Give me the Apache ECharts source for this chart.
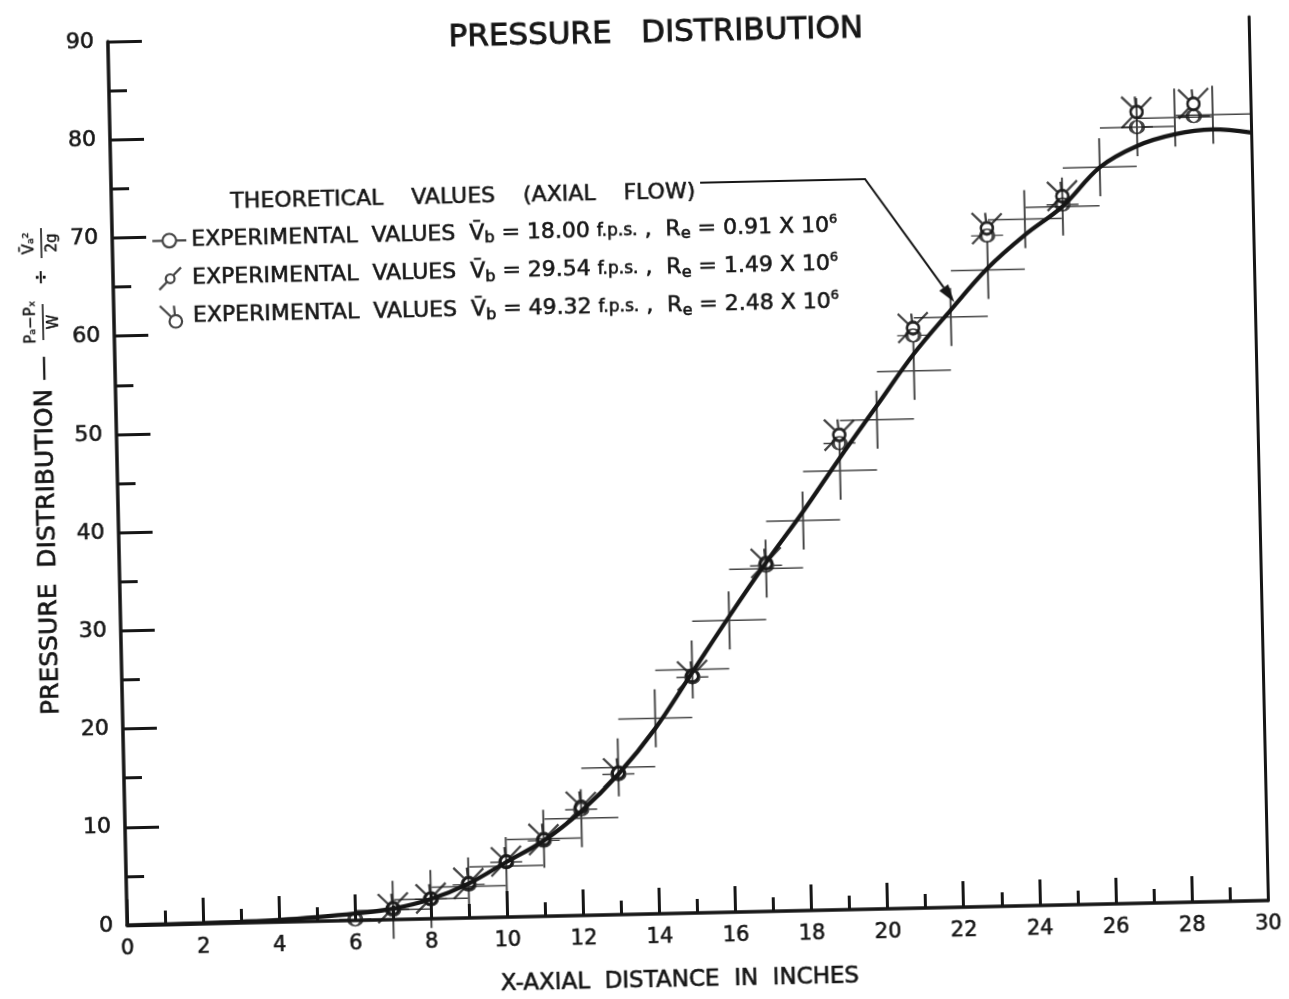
<!DOCTYPE html>
<html>
<head>
<meta charset="utf-8">
<script src="https://cdn.jsdelivr.net/npm/echarts@6/dist/echarts.min.js"></script>
<style>
html, body { margin: 0; padding: 0; background: #ffffff; overflow: hidden; }
#chart { width: 1289px; height: 999px; transform: rotate(-1.25deg); transform-origin: 50% 50%; }
</style>
</head>
<body>
<div id="chart"></div>
<script>
// ---------------- data ----------------
const xInches = [0,1,2,3,4,5,6,7,8,9,10,11,12,13,14,15,16,17,18,19,20,21,22,23,24,25,26,27,28,29,30];
const theoreticalCurve = [0,0.02,0.06,0.12,0.22,0.42,0.7,1.1,2.0,3.5,5.6,7.7,10.6,14.3,18.9,24.5,30.1,35.5,40.6,46.0,51.2,56.4,60.8,65.0,68.3,71.1,75.0,77.1,78.2,78.6,78.2];

const crossX = [7,8,9,10,11,12,13,14,15,16,17,18,19,20,21,22,23,24,25,26,27,28,29];
const crossValues = [1.0,2.0,3.2,5.2,7.9,9.9,15.0,19.9,24.8,29.7,34.9,39.7,44.7,49.8,54.7,60.1,64.8,69.9,71.1,75.0,79.0,79.9,80.1];

const exp1X = [6,7,8,9,10,11,12,13,15,17,19,21,23,25,27,28.5];
const exp1Values = [0.1,1.0,2.0,3.4,5.6,7.7,10.8,14.3,24.0,35.2,47.5,58.3,68.3,71.3,79.0,80.0];
const exp23X = [7,8,9,10,11,12,13,15,17,19,21,23,25,27,28.5];
const exp2Values = [1.2,2.1,3.5,5.7,7.8,11.0,14.5,24.2,35.5,48.3,59.1,69.0,72.2,80.5,81.3];
const exp3Values = [1.1,2.0,3.6,5.6,7.9,11.1,14.4,24.1,35.4,48.4,59.0,69.1,72.1,80.6,81.2];

const seriesNames = [
  'THEORETICAL VALUES (AXIAL FLOW)',
  'EXPERIMENTAL VALUES V\u0304b = 18.00 f.p.s., Re = 0.91 X 10\u2076',
  'EXPERIMENTAL VALUES V\u0304b = 29.54 f.p.s., Re = 1.49 X 10\u2076',
  'EXPERIMENTAL VALUES V\u0304b = 49.32 f.p.s., Re = 2.48 X 10\u2076'
];
const richLabels = [
  '{t|THEORETICAL    VALUES    (AXIAL    FLOW)}',
  '{t|EXPERIMENTAL  VALUES  V\u0304}{s|b}{t| = 18.00 }{f|f.p.s.}{t| ,  R}{s|e}{t| = 0.91 X 10}{p|6}',
  '{t|EXPERIMENTAL  VALUES  V\u0304}{s|b}{t| = 29.54 }{f|f.p.s.}{t| ,  R}{s|e}{t| = 1.49 X 10}{p|6}',
  '{t|EXPERIMENTAL  VALUES  V\u0304}{s|b}{t| = 49.32 }{f|f.p.s.}{t| ,  R}{s|e}{t| = 2.48 X 10}{p|6}'
];
const arrowTarget = [22.1, 61.6];

// ---------------- styling ----------------
const INK = '#161616';
const FONT = 'DejaVu Sans';
const HEAVY = { textBorderColor: INK, textBorderWidth: 0.6 };
const CIRCLE = 'M0.4,0C0.4,0.2209 0.2209,0.4 0,0.4C-0.2209,0.4 -0.4,0.2209 -0.4,0C-0.4,-0.2209 -0.2209,-0.4 0,-0.4C0.2209,-0.4 0.4,-0.2209 0.4,0Z';
const SYM_CROSS = 'path://M-1,0L1,0M0,-1L0,1';
const SYM_EXP1 = 'path://M-1,0L-0.4,0M0.4,0L1,0M' + CIRCLE.slice(1);
const SYM_EXP2 = 'path://M-1,1L-0.28,0.28M0.28,-0.28L1,-1M' + CIRCLE.slice(1);
const SYM_EXP3 = 'path://M-1,-1L-0.28,-0.28M-0.1,-1L-0.05,-0.4M' + CIRCLE.slice(1);

const zip = (xs, ys) => xs.map((x, i) => [x, ys[i]]);
const legendFormatter = name => richLabels[seriesNames.indexOf(name)];
const rich = {
  t: Object.assign({ fontSize: 22, fontFamily: FONT, color: INK, lineHeight: 26 }, HEAVY),
  f: Object.assign({ fontSize: 17, fontFamily: FONT, color: INK, lineHeight: 26 }, HEAVY),
  s: Object.assign({ fontSize: 16, fontFamily: FONT, color: INK, lineHeight: 14, verticalAlign: 'bottom' }, HEAVY),
  p: Object.assign({ fontSize: 13, fontFamily: FONT, color: INK, lineHeight: 12, verticalAlign: 'top' }, HEAVY)
};
const expStyle = { color: 'transparent', borderColor: INK, borderWidth: 2.3 };

const option = {
  backgroundColor: '#ffffff',
  animation: false,
  title: {
    text: 'PRESSURE   DISTRIBUTION',
    left: 661, top: 13, textAlign: 'center',
    textStyle: { fontFamily: FONT, fontSize: 31, fontWeight: 'normal', color: INK, textBorderColor: INK, textBorderWidth: 0.9 }
  },
  grid: { left: 118, right: 30, top: 30, bottom: 85, outerBoundsMode: 'none' },
  legend: [
    {
      id: 'theo', data: [{ name: seriesNames[0], icon: 'none' }],
      left: 217, top: 177, itemWidth: 10, itemHeight: 10, selectedMode: false,
      formatter: legendFormatter, textStyle: { color: INK, rich: rich }
    },
    {
      id: 'exp', orient: 'vertical',
      data: [
        { name: seriesNames[1], icon: SYM_EXP1 },
        { name: seriesNames[2], icon: SYM_EXP2 },
        { name: seriesNames[3], icon: SYM_EXP3 }
      ],
      left: 152, top: 212, itemWidth: 34, itemHeight: 22, itemGap: 11.5, selectedMode: false,
      itemStyle: { color: 'transparent', borderColor: INK, borderWidth: 2.2 },
      formatter: legendFormatter, textStyle: { color: INK, rich: rich }
    }
  ],
  xAxis: {
    type: 'value', min: 0, max: 30, interval: 2,
    name: 'X-AXIAL  DISTANCE  IN  INCHES', nameLocation: 'middle', nameGap: 56,
    nameTextStyle: Object.assign({ fontFamily: FONT, fontSize: 23, color: INK, padding: [0, 38, 0, 0] }, HEAVY),
    axisLine: { show: true, lineStyle: { color: INK, width: 3.5 } },
    axisTick: { show: true, inside: true, length: 26, lineStyle: { color: INK, width: 3 } },
    minorTick: { show: true, splitNumber: 2, length: 14, lineStyle: { color: INK, width: 3 } },
    axisLabel: Object.assign({ fontFamily: FONT, fontSize: 21, color: INK, margin: 13 }, HEAVY),
    splitLine: { show: false }, minorSplitLine: { show: false }
  },
  yAxis: [
    {
      type: 'value', min: 0, max: 90, interval: 10,
      axisLine: { show: true, lineStyle: { color: INK, width: 3.5 } },
      axisTick: { show: true, inside: true, length: 34, lineStyle: { color: INK, width: 3 } },
      minorTick: { show: true, splitNumber: 2, length: 18, lineStyle: { color: INK, width: 3 } },
      axisLabel: Object.assign({ fontFamily: FONT, fontSize: 22, color: INK, margin: 14 }, HEAVY),
      splitLine: { show: false }, minorSplitLine: { show: false }
    },
    {
      type: 'value', min: 0, max: 90, position: 'right',
      axisLine: { show: true, lineStyle: { color: INK, width: 3 } },
      axisTick: { show: false }, axisLabel: { show: false }, splitLine: { show: false }
    }
  ],
  series: [
    {
      name: seriesNames[0], type: 'line', data: zip(xInches, theoreticalCurve),
      smooth: 0.35, symbol: 'none', z: 3,
      lineStyle: { color: INK, width: 4.2 }, itemStyle: { color: INK }
    },
    {
      name: 'Theoretical points', type: 'scatter', data: zip(crossX, crossValues),
      symbol: SYM_CROSS, symbolSize: [74, 58], silent: true, z: 2,
      itemStyle: { color: 'transparent', borderColor: INK, borderWidth: 1.7 }
    },
    {
      name: seriesNames[1], type: 'scatter', data: zip(exp1X, exp1Values),
      symbol: SYM_EXP1, symbolSize: [32, 12.8], z: 4, itemStyle: expStyle
    },
    {
      name: seriesNames[2], type: 'scatter', data: zip(exp23X, exp2Values),
      symbol: SYM_EXP2, symbolSize: 30, z: 4, itemStyle: expStyle
    },
    {
      name: seriesNames[3], type: 'scatter', data: zip(exp23X, exp3Values),
      symbol: SYM_EXP3, symbolSize: 21, symbolOffset: [-4.5, -4.5], z: 4, itemStyle: expStyle
    }
  ]
};

const chart = echarts.init(document.getElementById('chart'), null, { renderer: 'canvas' });
chart.setOption(option);

// leader arrow from the legend text to the theoretical curve
const tip = chart.convertToPixel({ xAxisIndex: 0, yAxisIndex: 0 }, arrowTarget);
const start = [707, 184], elbow = [872, 184];
const dx = tip[0] - elbow[0], dy = tip[1] - elbow[1];
const len = Math.hypot(dx, dy), ux = dx / len, uy = dy / len;
const headL = 18, headW = 5.5;
const base = [tip[0] - ux * headL, tip[1] - uy * headL];
const head = [tip, [base[0] - uy * headW, base[1] + ux * headW], [base[0] + uy * headW, base[1] - ux * headW]];
const small = { fontFamily: FONT, fontSize: 15, fill: INK, align: 'center', verticalAlign: 'middle', stroke: INK, lineWidth: 0.4 };

chart.setOption({
  graphic: [
    {
      id: 'leader', type: 'polyline', silent: true,
      shape: { points: [start, elbow, base] },
      style: { stroke: INK, lineWidth: 2, fill: null }
    },
    {
      id: 'arrowhead', type: 'polygon', silent: true,
      shape: { points: head }, style: { fill: INK }
    },
    {
      id: 'ytitle', type: 'group', x: 47, y: 702, rotation: Math.PI / 2, silent: true,
      children: [
        { type: 'text', x: 0, y: 0, style: { text: 'PRESSURE  DISTRIBUTION \u2014', fontFamily: FONT, fontSize: 25, fill: INK, align: 'left', verticalAlign: 'middle', stroke: INK, lineWidth: 0.6 } },
        { type: 'text', x: 393, y: -12, style: Object.assign({}, small, { text: 'P\u2090\u2212P\u2093' }) },
        { type: 'line', shape: { x1: 375, y1: 0, x2: 411, y2: 0 }, style: { stroke: INK, lineWidth: 1.6 } },
        { type: 'text', x: 393, y: 11, style: Object.assign({}, small, { text: 'W' }) },
        { type: 'text', x: 438, y: 0, style: Object.assign({}, small, { text: '\u00f7', fontSize: 19 }) },
        { type: 'text', x: 472, y: -12, style: Object.assign({}, small, { text: 'V\u0304\u2090\u00b2' }) },
        { type: 'line', shape: { x1: 457, y1: 0, x2: 487, y2: 0 }, style: { stroke: INK, lineWidth: 1.6 } },
        { type: 'text', x: 472, y: 11, style: Object.assign({}, small, { text: '2g' }) }
      ]
    }
  ]
});
</script>
</body>
</html>
